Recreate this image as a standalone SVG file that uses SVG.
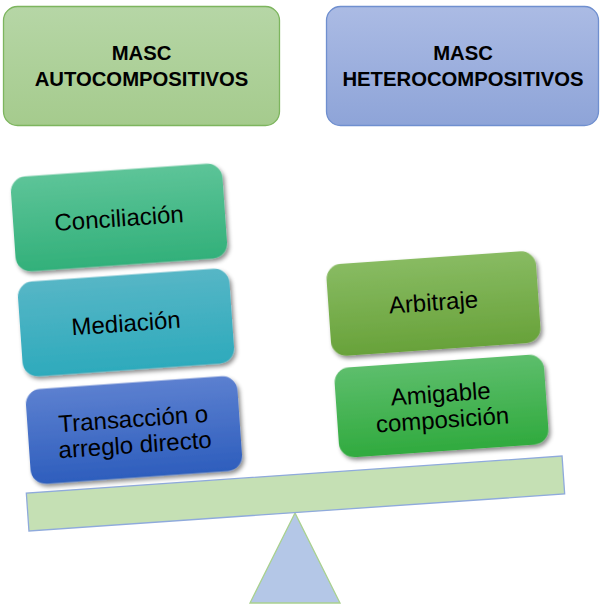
<svg xmlns="http://www.w3.org/2000/svg" width="600" height="606" viewBox="0 0 600 606">
<defs>
  <linearGradient id="gTopL" x1="0" y1="0" x2="0" y2="1"><stop offset="0" stop-color="#b6d6a6"/><stop offset="1" stop-color="#a5cb8d"/></linearGradient>
  <linearGradient id="gTopR" x1="0" y1="0" x2="0" y2="1"><stop offset="0" stop-color="#abbbe4"/><stop offset="1" stop-color="#8ea4d8"/></linearGradient>
  <linearGradient id="gConc" x1="0" y1="0" x2="0" y2="1"><stop offset="0" stop-color="#5dc498"/><stop offset="1" stop-color="#32b07a"/></linearGradient>
  <linearGradient id="gMed" x1="0" y1="0" x2="0" y2="1"><stop offset="0" stop-color="#56b6c6"/><stop offset="1" stop-color="#2eaabc"/></linearGradient>
  <linearGradient id="gTrans" x1="0" y1="0" x2="0" y2="1"><stop offset="0" stop-color="#5c80d0"/><stop offset="1" stop-color="#2e5ebd"/></linearGradient>
  <linearGradient id="gArb" x1="0" y1="0" x2="0" y2="1"><stop offset="0" stop-color="#88bb62"/><stop offset="1" stop-color="#68a23a"/></linearGradient>
  <linearGradient id="gAmi" x1="0" y1="0" x2="0" y2="1"><stop offset="0" stop-color="#5dbe6c"/><stop offset="1" stop-color="#30aa3e"/></linearGradient>
  <filter id="shadow" x="-10%" y="-10%" width="125%" height="130%">
    <feDropShadow dx="2" dy="3" stdDeviation="2.2" flood-color="#000" flood-opacity="0.45"/>
  </filter>
</defs>
<style>
  .hdr { font-family: "Liberation Sans", Arial, sans-serif; font-weight: bold; font-size: 20.3px; fill: #000; text-anchor: middle; }
  .lbl { font-family: "Liberation Sans", Arial, sans-serif; font-size: 24px; fill: #000; text-anchor: middle; }
  .card { filter: url(#shadow); }
</style>

<g id="masc-auto">
  <rect x="3.5" y="6.5" width="276" height="119" rx="14" fill="url(#gTopL)" stroke="#7db55e" stroke-width="1.3"/>
  <text class="hdr" x="141.5" y="60">MASC</text>
  <text class="hdr" x="141.5" y="86">AUTOCOMPOSITIVOS</text>
</g>

<g id="masc-hetero">
  <rect x="326.5" y="6.5" width="272" height="119" rx="14" fill="url(#gTopR)" stroke="#6f8fcf" stroke-width="1.3"/>
  <text class="hdr" x="463" y="60">MASC</text>
  <text class="hdr" x="463" y="86">HETEROCOMPOSITIVOS</text>
</g>

<g id="beam-base">
  <polygon points="295,513 250,603 340,603" fill="#b4c7e7" stroke="#a9d18e" stroke-width="1.3"/>
</g>

<g id="beam">
  <g transform="translate(295.5,493.5) rotate(-3.95)">
    <rect x="-268.5" y="-19" width="537" height="38" fill="#c5e0b4" stroke="#8faadc" stroke-width="1.3"/>
  </g>
</g>

<g id="conciliacion" transform="translate(119,217.5) rotate(-4)">
  <rect class="card" x="-106" y="-47.5" width="212" height="95" rx="15" fill="url(#gConc)"/>
  <text class="lbl" x="0" y="9">Conciliación</text>
</g>

<g id="mediacion" transform="translate(126,322.5) rotate(-4)">
  <rect class="card" x="-106" y="-47.5" width="212" height="95" rx="15" fill="url(#gMed)"/>
  <text class="lbl" x="0" y="9">Mediación</text>
</g>

<g id="transaccion" transform="translate(134,430) rotate(-4)">
  <rect class="card" x="-106" y="-47.5" width="212" height="95" rx="15" fill="url(#gTrans)"/>
  <text class="lbl" x="0" y="-3">Transacción o</text>
  <text class="lbl" x="0" y="23">arreglo directo</text>
</g>

<g id="arbitraje" transform="translate(433.5,303.5) rotate(-4)">
  <rect class="card" x="-105" y="-46" width="210" height="92" rx="15" fill="url(#gArb)"/>
  <text class="lbl" x="0" y="7">Arbitraje</text>
</g>

<g id="amigable" transform="translate(441.5,406) rotate(-4)">
  <rect class="card" x="-105" y="-45" width="210" height="90" rx="15" fill="url(#gAmi)"/>
  <text class="lbl" x="0" y="-4">Amigable</text>
  <text class="lbl" x="0" y="22">composición</text>
</g>

<g id="connectors"></g>
</svg>
